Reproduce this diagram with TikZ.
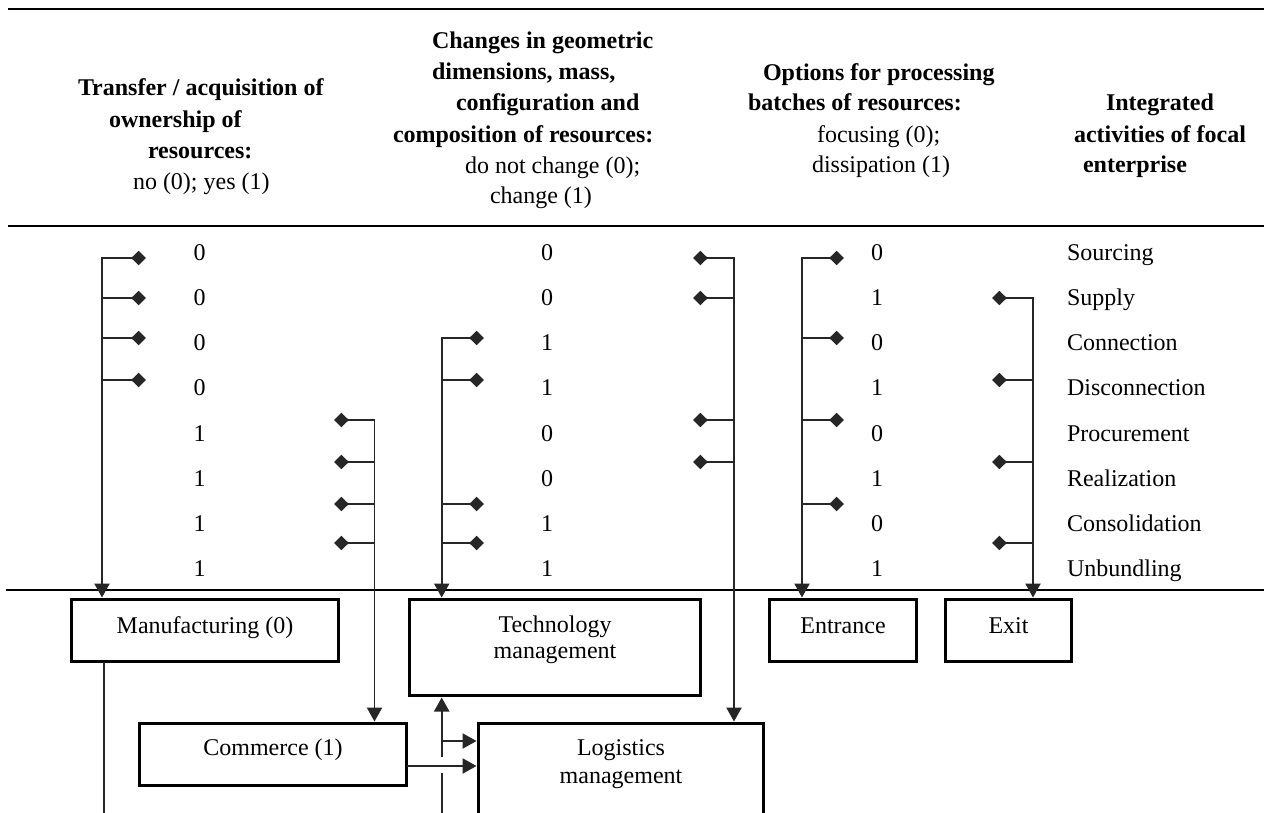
\documentclass[tikz,border=0pt]{standalone}
\usepackage{fontspec}
\setmainfont{Liberation Serif}
\usetikzlibrary{arrows.meta}

\begin{document}
\begin{tikzpicture}[x=0.5pt,y=-0.5pt,
  every node/.style={inner sep=0pt, outer sep=0pt, font=\fontsize{12}{15}\selectfont},
  head/.style={anchor=base west, font=\fontsize{12}{15}\selectfont\bfseries},
  sub/.style={anchor=base west},
  val/.style={anchor=base},
  act/.style={anchor=base west},
  rule/.style={line width=1.2pt},
  thinrule/.style={line width=0.8pt},
  wire/.style={draw=black!85, line width=0.8pt},
  tick/.style={wire, -{Diamond[length=7.4pt,width=7.2pt]}},
  feed/.style={wire, -{Triangle[length=7pt,width=7.6pt]}, shorten >=1pt},
  bracket/.style={wire, {Diamond[length=7.4pt,width=7.2pt]}-{Triangle[length=7pt,width=7.6pt]}, shorten >=1pt},
  block/.style={draw, line width=1.6pt, rectangle, anchor=north west},
  blocktext/.style={anchor=base},
]
\useasboundingbox (0,0) rectangle (1264,813);
\clip (0,0) rectangle (1264,813);

% table rules
\draw[rule] (8,9) -- (1264,9);
\draw[rule] (8,226) -- (1264,226);
\draw[thinrule] (6,590) -- (1264,590);

% column headings
\node[head] (h1a) at (78,96)  {Transfer / acquisition of};
\node[head] (h1b) at (109,127) {ownership of};
\node[head] (h1c) at (148,158) {resources:};
\node[sub]  (h1d) at (133,190) {no (0); yes (1)};

\node[head] (h2a) at (432,49)  {Changes in geometric};
\node[head] (h2b) at (432,80)  {dimensions, mass,};
\node[head] (h2c) at (456,111) {configuration and};
\node[head] (h2d) at (393,142) {composition of resources:};
\node[sub]  (h2e) at (465,173) {do not change (0);};
\node[sub]  (h2f) at (490,204) {change (1)};

\node[head] (h3a) at (763,81)  {Options for processing};
\node[head] (h3b) at (748,111) {batches of resources:};
\node[sub]  (h3c) at (817,142) {focusing (0);};
\node[sub]  (h3d) at (812,172) {dissipation (1)};

\node[head] (h4a) at (1106,111) {Integrated};
\node[head] (h4b) at (1074,142) {activities of focal};
\node[head] (h4c) at (1083,172) {enterprise};

% attribute values and activities
\foreach \a/\b/\c/\act/\y [count=\i] in
  {0/0/0/Sourcing/260, 0/0/1/Supply/305, 0/1/0/Connection/350,
   0/1/1/Disconnection/395, 1/0/0/Procurement/441, 1/0/1/Realization/486,
   1/1/0/Consolidation/531, 1/1/1/Unbundling/576} {
  \node[val] (va\i) at (199.5,\y) {\a};
  \node[val] (vb\i) at (547,\y) {\b};
  \node[val] (vc\i) at (877,\y) {\c};
  \node[act] (ac\i) at (1067,\y) {\act};
}

% activity blocks
\node[block, minimum width=133.5pt, minimum height=31pt] (manu) at (71.5,599.5) {};
\node[block, minimum width=133.5pt, minimum height=31pt] (comm) at (139.5,723.5) {};
\node[block, minimum width=145.5pt, minimum height=48pt] (tech) at (409.5,599.5) {};
\node[block, minimum width=142.5pt, minimum height=95pt] (logi) at (478.5,723.5) {};
\node[block, minimum width=73.5pt,  minimum height=31pt] (entr) at (769.5,599.5) {};
\node[block, minimum width=63pt,    minimum height=31pt] (exit) at (945.5,599.5) {};

\node[blocktext] (manut) at (205,633) {Manufacturing (0)};
\node[blocktext] (commt) at (273,755) {Commerce (1)};
\node[blocktext] (techt1) at (555,632) {Technology};
\node[blocktext] (techt2) at (555,658) {management};
\node[blocktext] (logit1) at (621,755) {Logistics};
\node[blocktext] (logit2) at (621,783) {management};
\node[blocktext] (entrt) at (843,633) {Entrance};
\node[blocktext] (exitt) at (1008.5,633) {Exit};

% bracket: no transfer of ownership -> Manufacturing
\foreach \k/\y in {1/258,2/298,3/338,4/380} {
  \coordinate (m\k) at (102,\y); \coordinate (md\k) at (146,\y);
}
\draw[bracket] (md1) -- (m1) -- (m1 |- manu.north);
\foreach \k in {2,3,4} \draw[tick] (m\k) -- (md\k);

% bracket: transfer of ownership -> Commerce
\foreach \k/\y in {1/420,2/462,3/504,4/543} {
  \coordinate (c\k) at (374.5,\y); \coordinate (cd\k) at (334,\y);
}
\draw[bracket] (cd1) -- (c1) -- (c1 |- comm.north);
\foreach \k in {2,3,4} \draw[tick] (c\k) -- (cd\k);

% bracket: resources change -> Technology management
\foreach \k/\y in {1/338,2/380,3/504,4/543} {
  \coordinate (t\k) at (441.7,\y); \coordinate (td\k) at (484,\y);
}
\draw[bracket] (td1) -- (t1) -- (t1 |- tech.north);
\foreach \k in {2,3,4} \draw[tick] (t\k) -- (td\k);

% bracket: resources unchanged -> Logistics management
\foreach \k/\y in {1/258,2/298,3/420,4/462} {
  \coordinate (l\k) at (734,\y); \coordinate (ld\k) at (693,\y);
}
\draw[bracket] (ld1) -- (l1) -- (l1 |- logi.north);
\foreach \k in {2,3,4} \draw[tick] (l\k) -- (ld\k);

% bracket: focusing -> Entrance
\foreach \k/\y in {1/258,2/338,3/420,4/504} {
  \coordinate (e\k) at (802,\y); \coordinate (ed\k) at (844,\y);
}
\draw[bracket] (ed1) -- (e1) -- (e1 |- entr.north);
\foreach \k in {2,3,4} \draw[tick] (e\k) -- (ed\k);

% bracket: dissipation -> Exit
\foreach \k/\y in {1/298,2/380,3/462,4/543} {
  \coordinate (x\k) at (1033,\y); \coordinate (xd\k) at (992,\y);
}
\draw[bracket] (xd1) -- (x1) -- (x1 |- exit.north);
\foreach \k in {2,3,4} \draw[tick] (x\k) -- (xd\k);

% links between the blocks
\coordinate (mb) at (104,900);
\draw[wire] (manu.south -| mb) -- (mb);
\coordinate (cl) at (406.5,766);
\draw[feed] (cl -| comm.east) -- (cl -| logi.west);
\coordinate (vt) at (441.7,757);
\draw[feed] (vt) -- (vt |- tech.south);
\coordinate (vb) at (441.7,741);
\draw[feed] (vb) -- (vb -| logi.west);
\coordinate (vl) at (441.7,773);
\coordinate (vlb) at (441.7,900);
\draw[wire] (vl) -- (vlb);
\end{tikzpicture}
\end{document}
